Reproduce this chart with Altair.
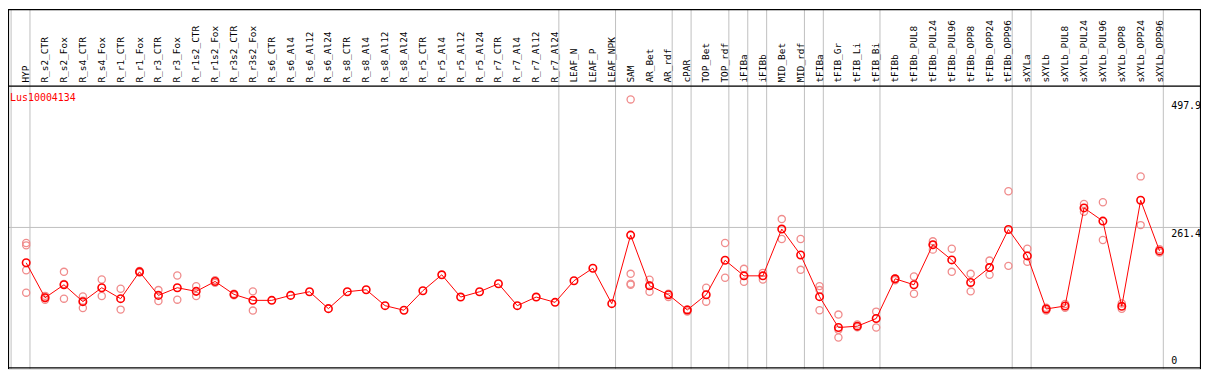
import altair as alt
import pandas as pd

labels = ["HYP", "R_s2_CTR", "R_s2_Fox", "R_s4_CTR", "R_s4_Fox", "R_r1_CTR", "R_r1_Fox",
          "R_r3_CTR", "R_r3_Fox", "R_r1s2_CTR", "R_r1s2_Fox", "R_r3s2_CTR", "R_r3s2_Fox",
          "R_s6_CTR", "R_s6_Al4", "R_s6_Al12", "R_s6_Al24", "R_s8_CTR", "R_s8_Al4", "R_s8_Al12",
          "R_s8_Al24", "R_r5_CTR", "R_r5_Al4", "R_r5_Al12", "R_r5_Al24", "R_r7_CTR", "R_r7_Al4",
          "R_r7_Al12", "R_r7_Al24", "LEAF_N", "LEAF_P", "LEAF_NPK", "SAM", "AR_Bet", "AR_rdf",
          "cPAR", "TOP_Bet", "TOP_rdf", "iFIBa", "iFIBb", "MID_Bet", "MID_rdf", "tFIBa",
          "tFIB_Gr", "tFIB_Li", "tFIB_Bi", "tFIBb", "tFIBb_PUL8", "tFIBb_PUL24", "tFIBb_PUL96",
          "tFIBb_OPP8", "tFIBb_OPP24", "tFIBb_OPP96", "sXYLa", "sXYLb", "sXYLb_PUL8",
          "sXYLb_PUL24", "sXYLb_PUL96", "sXYLb_OPP8", "sXYLb_OPP24", "sXYLb_OPP96"]

means = [196.1, 131.6, 155.5, 124.3, 150.0, 129.8, 179.4, 135.9, 150.0, 143.3, 161.6, 137.7,
         126.7, 126.7, 135.9, 142.6, 111.4, 142.6, 146.3, 116.9, 108.4, 144.5, 173.9, 132.8,
         142.6, 157.4, 116.9, 132.8, 123.0, 162.9, 186.1, 120.6, 247.3, 153.7, 137.1, 109.0,
         137.1, 200.8, 172.0, 172.0, 258.4, 210.6, 133.5, 76.5, 79.0, 93.1, 166.5, 155.5,
         229.6, 201.4, 159.8, 187.3, 257.7, 208.8, 110.8, 116.3, 297.5, 273.1, 115.7, 311.6,
         218.0]

N = None
rep_a = [232.7, 128, 179.4, 134, 165.3, 148.2, 178, 145.7, 172.6, 153, 164, 139, 143.3,
         N, N, N, N, N, N, N, N, N, N, N, N, N, N, N, N, N, N, N,
         497.9, 164.7, 139, 110, 150, 232.7, 184.9, 177.5, 276.8, 240, 153, 100.4, 82, 105.9,
         167, 170.8, 235.7, 222.2, 175.7, 200.2, 328.2, 222.2, 113, 120, 304.9, 308, 121,
         355.7, 221]
rep_b = [228.3, 135, 129.8, 112.6, 134.7, 109.6, 181, 125.5, 128, 134.7, 159, 136, 107.8,
         N, N, N, N, N, N, N, N, N, N, N, N, N, N, N, N, N, N, N,
         175.7, 142.6, 133, 106, 124.3, 168.4, 161, 165.3, 240, 183.1, 145.7, 72.2, 77, 76.5,
         164, 139, 220.4, 179.4, 143.3, 173.9, 190.4, 197.8, 108, 113, 290.2, 238.2, 111,
         265.7, 215]
rep_c = [182.4, 132, 157, 126, N, N, N, N, N, N, N, N, N,
         N, N, N, N, N, N, N, N, N, N, N, N, N, N, N, N, N, N, N,
         157.4, 154, N, N, N, N, N, N, N, N, 108.4, 58.1, N, N,
         N, N, 229, N, N, N, N, N, N, N, N, N, N, N, N]
rep_d = [140.9] + [N] * 31 + [155.5] + [N] * 28

group_ends = [-1, 0, 28, 31, 34, 35, 37, 38, 39, 41, 42, 45, 52, 53, 60]
gene = "Lus10004134"
tick_values = [497.9, 261.4, 0]
tick_text = ["497.9", "261.4", "0"]

W, H, TOP = 1200, 285, 77
STEP = 19.0
X0 = 18.3
xscale = alt.Scale(domain=[-X0 / STEP, (W - X0) / STEP], nice=False, zero=False)
yscale = alt.Scale(domain=[0, 523.4], nice=False, zero=False)
FONT = "DejaVu Sans Mono"

df = pd.DataFrame({"i": list(range(len(labels))), "label": labels, "mean": means})
reps = []
for arr in (rep_a, rep_b, rep_c, rep_d):
    for i, v in enumerate(arr):
        if v is not None:
            reps.append({"i": i, "v": v})
rdf = pd.DataFrame(reps)
gdf = pd.DataFrame({"g": [g + 0.2 for g in group_ends]})
tdf = pd.DataFrame({"v": tick_values, "t": tick_text})

X = alt.X("i:Q", scale=xscale, axis=None)

vgrid = alt.Chart(gdf).mark_rule(color="#c0c0c0", strokeWidth=1).encode(
    x=alt.X("g:Q", scale=xscale, axis=None), y=alt.value(-TOP), y2=alt.value(H))
hgrid = alt.Chart(tdf[tdf.v == 261.4]).mark_rule(color="#c0c0c0", strokeWidth=1).encode(
    y=alt.Y("v:Q", scale=yscale, axis=None), x=alt.value(0), x2=alt.value(W))

rep_pts = alt.Chart(rdf).mark_point(shape="circle", filled=False, size=52,
                                     color="#f08c8c", strokeWidth=1.3, opacity=1).encode(
    x=X, y=alt.Y("v:Q", scale=yscale, axis=None))
line = alt.Chart(df).mark_line(color="#ff0000", strokeWidth=1).encode(
    x=X, y=alt.Y("mean:Q", scale=yscale, axis=None))
mean_pts = alt.Chart(df).mark_point(shape="circle", filled=False, size=56,
                                     color="#ff0000", strokeWidth=1.6, opacity=1).encode(
    x=X, y=alt.Y("mean:Q", scale=yscale, axis=None))

col_labels = alt.Chart(df).mark_text(angle=270, align="left", baseline="middle",
                                      font=FONT, fontSize=9.5, color="black").encode(
    x=X, y=alt.value(-3), text="label:N")

frame_h = alt.Chart(pd.DataFrame({"y": [-TOP + 0.5, 0.5, H - 1]})).mark_rule(
    color="black", strokeWidth=1.2).encode(
    y=alt.Y("y:Q", scale=alt.Scale(domain=[0, H], range=[0, H], nice=False, zero=False), axis=None),
    x=alt.value(0), x2=alt.value(W))
frame_v = alt.Chart(pd.DataFrame({"x": [0.5, W - 0.5]})).mark_rule(
    color="black", strokeWidth=1.2).encode(
    x=alt.X("x:Q", scale=alt.Scale(domain=[0, W], range=[0, W], nice=False, zero=False), axis=None),
    y=alt.value(-TOP), y2=alt.value(H))

gene_text = alt.Chart(pd.DataFrame({"t": [gene]})).mark_text(
    align="left", baseline="middle", font=FONT, fontSize=10, color="#ff0000").encode(
    x=alt.value(2), y=alt.value(12), text="t:N")

tick_top = alt.Chart(tdf[tdf.v > 0]).mark_text(
    align="left", baseline="top", font=FONT, fontSize=10, color="black", dy=2).encode(
    x=alt.value(1170), y=alt.Y("v:Q", scale=yscale, axis=None), text="t:N")
tick_zero = alt.Chart(tdf[tdf.v == 0]).mark_text(
    align="left", baseline="bottom", font=FONT, fontSize=10, color="black", dy=-3).encode(
    x=alt.value(1170), y=alt.Y("v:Q", scale=yscale, axis=None), text="t:N")

chart = alt.layer(
    vgrid, hgrid, rep_pts, line, mean_pts, frame_h, frame_v, col_labels, gene_text,
    tick_top, tick_zero
).resolve_scale(x="independent", y="independent").properties(
    width=W, height=H,
    autosize=alt.AutoSizeParams(type="none"),
    padding={"left": 0, "top": TOP, "right": 0, "bottom": 0},
).configure_view(stroke=None).configure(background="white")

chart.save("out.html", embed_options={"renderer": "svg", "actions": False})
